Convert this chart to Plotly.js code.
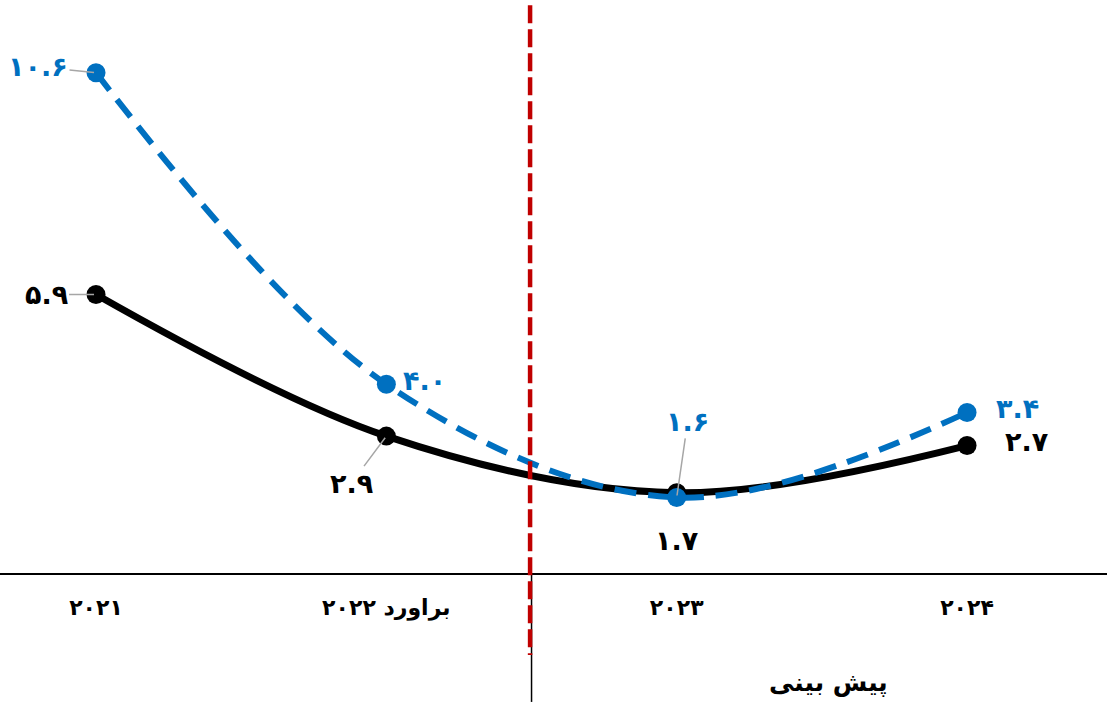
<!DOCTYPE html>
<html>
<head>
<meta charset="utf-8">
<script src="https://cdn.plot.ly/plotly-3.0.1.min.js"></script>
<style>html,body{margin:0;padding:0;background:#fff;}#chart{width:1107px;height:702px;}</style>
</head>
<body>
<div id="chart"></div>
<script>
// Data
var categories = [0, 1, 2, 3];
var tickLabels = ["۲۰۲۱", "براورد ۲۰۲۲", "۲۰۲۳", "۲۰۲۴"];
var seriesBlack = [5.9, 2.9, 1.7, 2.7];
var seriesBlue = [10.6, 4.0, 1.6, 3.4];
var labelsBlack = ["۵.۹", "۲.۹", "۱.۷", "۲.۷"];
var labelsBlue = ["۱۰.۶", "۴.۰", "۱.۶", "۳.۴"];
var forecastLabel = "پیش بینی";

var FONT = "DejaVu Sans, Noto Sans, sans-serif";
var BLUE = "#0070C0";

// label offsets (pixels) per point
var offBlack = [[-50, 0, true], [-35, 47, true], [0, 48, false], [60, -4, false]];
var offBlue = [[-58, -6, true], [38, -4, false], [11, -76, true], [50, -4, false]];

var traces = [
  {x: categories, y: seriesBlack, type: "scatter", mode: "lines+markers",
   line: {color: "#000", width: 7, shape: "spline"},
   marker: {color: "#000", size: 19}, hoverinfo: "skip"},
  {x: categories, y: seriesBlue, type: "scatter", mode: "lines+markers",
   line: {color: BLUE, width: 6, dash: "22px,12px", shape: "spline"},
   marker: {color: BLUE, size: 19}, hoverinfo: "skip"}
];

var annotations = [];
function addLabels(vals, labs, offs, color) {
  for (var i = 0; i < vals.length; i++) {
    annotations.push({
      x: categories[i], y: vals[i], xref: "x", yref: "y",
      text: labs[i], showarrow: true, arrowhead: 0, arrowwidth: 1.5,
      arrowcolor: offs[i][2] ? "#A6A6A6" : "rgba(0,0,0,0)",
      standoff: 2,
      ax: offs[i][0], ay: offs[i][1],
      font: {family: FONT, size: 27, color: color, weight: "bold"}
    });
  }
}
addLabels(seriesBlack, labelsBlack, offBlack, "#000");
addLabels(seriesBlue, labelsBlue, offBlue, BLUE);

annotations.push({
  x: 828 / 1107, y: -0.191, xref: "paper", yref: "paper",
  xanchor: "center", yanchor: "middle",
  text: forecastLabel, showarrow: false,
  font: {family: FONT, size: 25, color: "#000", weight: "bold"}
});

var layout = {
  width: 1107, height: 702,
  margin: {l: 0, r: 0, t: 0, b: 129},
  paper_bgcolor: "#fff", plot_bgcolor: "#fff",
  showlegend: false,
  xaxis: {
    range: [-0.3307, 3.482], tickvals: categories, ticktext: tickLabels,
    showgrid: false, zeroline: false, showline: true, linecolor: "#000", linewidth: 2,
    ticks: "", ticklabelstandoff: 14,
    tickfont: {family: FONT, size: 22, color: "#000", weight: "bold"}
  },
  yaxis: {
    range: [0, 12.14], visible: false, showgrid: false, zeroline: false
  },
  shapes: [
    {type: "line", xref: "x", yref: "paper", x0: 1.5, x1: 1.5, y0: 0, y1: -0.225,
     line: {color: "#000", width: 1.5}},
    {type: "line", xref: "x", yref: "paper", x0: 1.495, x1: 1.495, y0: 0.991, y1: -0.143,
     line: {color: "#C00000", width: 4.5, dash: "18px,6px"}}
  ],
  annotations: annotations
};

Plotly.newPlot("chart", traces, layout, {displayModeBar: false, staticPlot: true});
</script>
</body>
</html>
